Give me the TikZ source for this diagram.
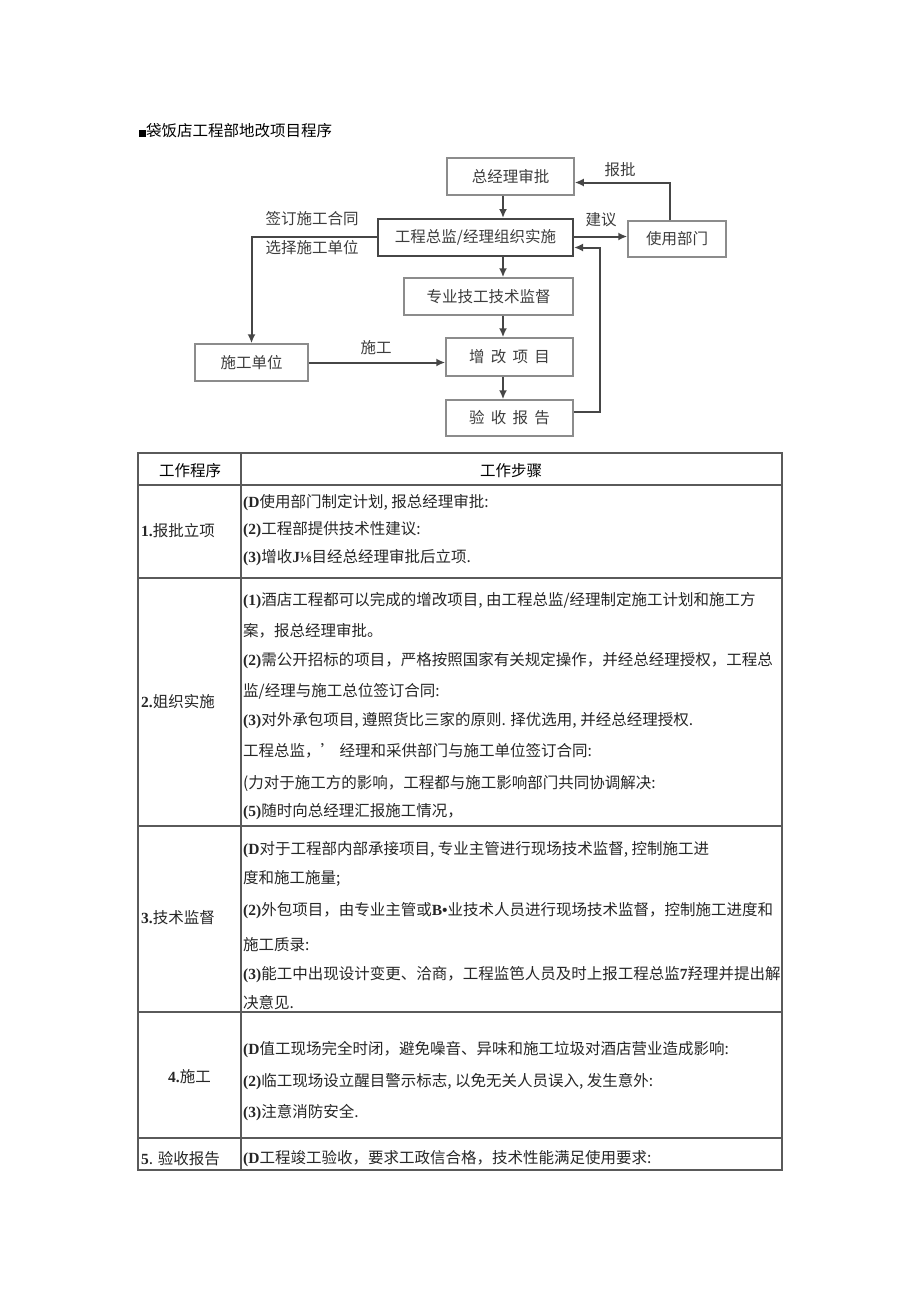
\documentclass[tikz,border=0pt]{standalone}
\usepackage{fontspec}
\setmainfont{Noto Sans CJK SC}
\newfontfamily\latb{Liberation Serif}
\usetikzlibrary{arrows.meta, calc, positioning}
\definecolor{boxgray}{RGB}{140,140,140}
\definecolor{darkgray}{RGB}{70,70,70}
\definecolor{txtgray}{RGB}{60,60,60}
\definecolor{rulegray}{RGB}{90,90,90}
\newcommand{\fs}{\fontsize{15.5}{18}\selectfont}
\newcommand{\nb}[1]{{\latb\bfseries #1}}

\begin{document}
\begin{tikzpicture}[
    x=1pt, y=-1pt,
    box/.style={draw=boxgray, line width=1.5pt, minimum height=37pt, inner sep=0pt, text=txtgray, font=\fs},
    arrow/.style={-{Latex[length=9pt,width=8pt]}, line width=2pt, draw=darkgray},
    lbl/.style={text=txtgray, font=\fs, inner sep=0pt},
    cell/.style={anchor=west, inner sep=0pt, font=\fs, text=black!85}
]
\useasboundingbox (0,0) rectangle (920,1301);

% Title
\node[anchor=west, inner sep=0pt, font=\fs] (title) at (139,131) {\rule{7pt}{7pt}袋饭店工程部地改项目程序};

% Flow boxes
\node[box, minimum width=127pt] (zjl) at (510.5,176.5) {总经理审批};
\node[box, minimum width=195pt, draw=darkgray, line width=2pt] (zj) at (475.5,237.5) {工程总监/经理组织实施};
\node[box, minimum width=98pt, minimum height=36pt] (sybm) at (677,239) {使用部门};
\node[box, minimum width=169pt] (jd) at (488.5,296.5) {专业技工技术监督};
\node[box, minimum width=113pt] (sgdw) at (251.5,362.5) {施工单位};
\node[box, minimum width=127pt, minimum height=38pt] (zgxm) at (509.5,357) {增\hspace{0.4em}改\hspace{0.4em}项\hspace{0.4em}目};
\node[box, minimum width=127pt, minimum height=36pt] (ysbg) at (509.5,418) {验\hspace{0.4em}收\hspace{0.4em}报\hspace{0.4em}告};

% Labels
\node[lbl] (bp) at (620,170) {报批};
\node[lbl] (jy) at (601,220) {建议};
\node[lbl] (qd) at (312,219) {签订施工合同};
\node[lbl] (xz) at (312,248) {选择施工单位};
\node[lbl] (sg) at (376,348) {施工};

% Helper coordinates
\coordinate (mid) at (503,0);
\coordinate (bpx) at (670,0);
\coordinate (ret) at (600,0);

% Arrows
\draw[arrow] (zjl.south -| mid) -- (zj.north -| mid);
\draw[arrow] (zj.south -| mid) -- (jd.north -| mid);
\draw[arrow] (jd.south -| mid) -- (zgxm.north -| mid);
\draw[arrow] (zgxm.south -| mid) -- (ysbg.north -| mid);
\draw[arrow] (sybm.north -| bpx) |- ([yshift=-6pt]zjl.east);
\draw[arrow] ([yshift=1pt]zj.east) -- ([yshift=1pt]zj.east -| sybm.west);
\draw[arrow] ([yshift=6pt]ysbg.east) -| ([yshift=-10pt]zj.east -| ret) -- ([yshift=-10pt]zj.east);
\draw[arrow] ([yshift=1pt]zj.west) -| (sgdw.north);
\draw[arrow] (sgdw.east) -- (sgdw.east -| zgxm.west);

% Table frame
\draw[rulegray, line width=1.3pt] (138,453) rectangle (782,1170);
\draw[rulegray, line width=1.3pt] (241,453) -- (241,1170);
\foreach \yy in {485,578,826,1012,1138}
  \draw[rulegray, line width=1.3pt] (138,\yy) -- (782,\yy);

% Header
\node[font=\fs, inner sep=0pt] (h1) at (190,471) {工作程序};
\node[font=\fs, inner sep=0pt] (h2) at (511,471) {工作步骤};

% Row 1
\node[cell] (p1) at (141,531) {\nb{1.}报批立项};
\node[cell] (s11) at (243,503) {\nb{(D}使用部门制定计划, 报总经理审批:};
\node[cell] (s12) at (243,530) {\nb{(2)}工程部提供技术性建议:};
\node[cell] (s13) at (243,558) {\nb{(3)}增收\nb{J⅛}目经总经理审批后立项.};

% Row 2
\node[cell] (p2) at (141,702) {\nb{2.}姐织实施};
\node[cell] (s21) at (243,601) {\nb{(1)}酒店工程都可以完成的增改项目, 由工程总监/经理制定施工计划和施工方};
\node[cell] (s22) at (243,631) {案，报总经理审批。};
\node[cell] (s23) at (243,661) {\nb{(2)}需公开招标的项目，严格按照国家有关规定操作，并经总经理授权，工程总};
\node[cell] (s24) at (243,691) {监/经理与施工总位签订合同:};
\node[cell] (s25) at (243,721) {\nb{(3)}对外承包项目, 遵照货比三家的原则. 择优选用, 并经总经理授权.};
\node[cell] (s26) at (243,751) {工程总监，’ 经理和采供部门与施工单位签订合同:};
\node[cell] (s27) at (243,783) {(力对于施工方的影响，工程都与施工影响部门共同协调解决:};
\node[cell] (s28) at (243,812) {\nb{(5)}随时向总经理汇报施工情况，};

% Row 3
\node[cell] (p3) at (141,918) {\nb{3.}技术监督};
\node[cell] (s31) at (243,850) {\nb{(D}对于工程部内部承接项目, 专业主管进行现场技术监督, 控制施工进};
\node[cell] (s32) at (243,878) {度和施工施量;};
\node[cell] (s33) at (243,911) {\nb{(2)}外包项目，由专业主管或\nb{B•}业技术人员进行现场技术监督，控制施工进度和};
\node[cell] (s34) at (243,945) {施工质录:};
\node[cell] (s35) at (243,975) {\nb{(3)}能工中出现设计变更、洽商，工程监笆人员及时上报工程总监\nb{7}羟理并提出解};
\node[cell] (s36) at (243,1003) {决意见.};

% Row 4
\node[cell] (p4) at (168,1077) {\nb{4.}施工};
\node[cell] (s41) at (243,1050) {\nb{(D}值工现场完全时闭，避免噪音、异味和施工垃圾对酒店营业造成影响:};
\node[cell] (s42) at (243,1082) {\nb{(2)}临工现场设立醒目警示标志, 以免无关人员误入, 发生意外:};
\node[cell] (s43) at (243,1113) {\nb{(3)}注意消防安全.};

% Row 5
\node[cell] (p5) at (141,1159) {\nb{5}. 验收报告};
\node[cell] (s51) at (243,1159) {\nb{(D}工程竣工验收，要求工政信合格，技术性能满足使用要求:};

\end{tikzpicture}
\end{document}
